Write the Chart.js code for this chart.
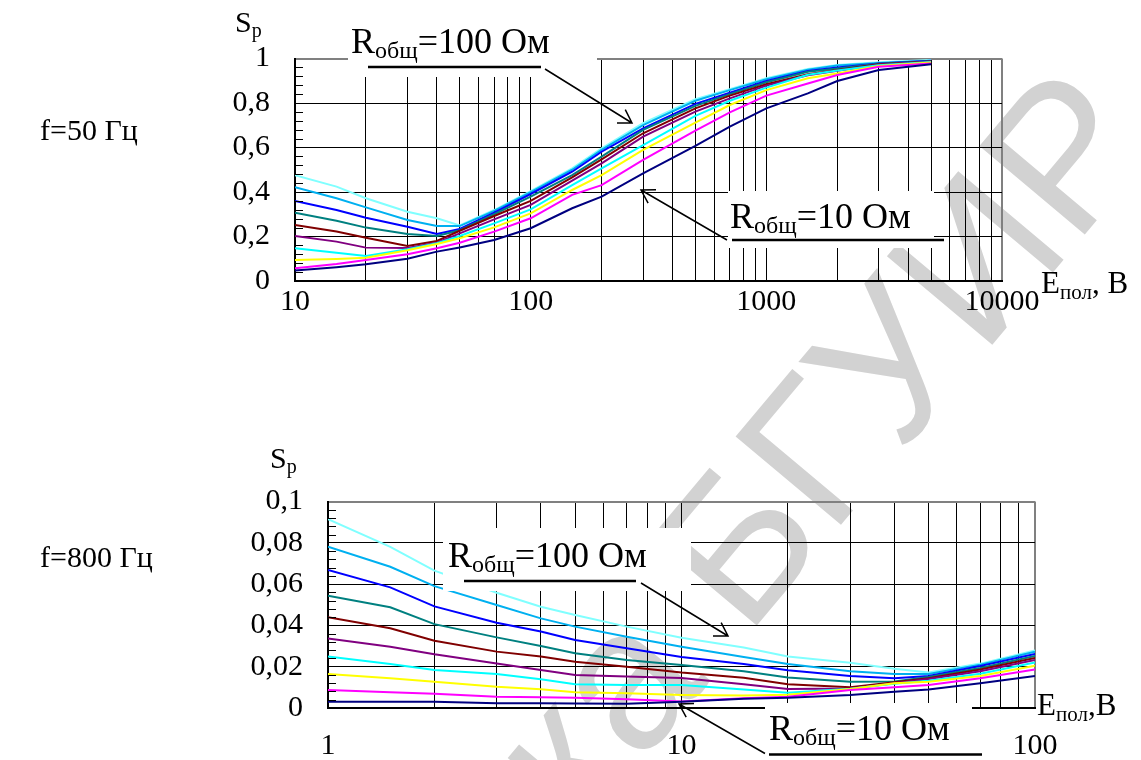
<!DOCTYPE html>
<html>
<head>
<meta charset="utf-8">
<script src="https://cdn.jsdelivr.net/npm/chart.js@4.4.0/dist/chart.umd.min.js"></script>
<style>
  html, body { margin: 0; padding: 0; background: #fff; }
  #page { position: relative; width: 1141px; height: 760px; overflow: hidden; }
  #wm {
    position: absolute; left: -118px; top: 1405px;
    font: 200px "Liberation Sans"; line-height: 1; color: #d2d2d2;
    white-space: nowrap; transform-origin: 0 0; transform: rotate(-50deg);
  }
  canvas { position: absolute; left: 0; }
</style>
</head>
<body>
<div id="page">
  <div id="wm">Библиотека БГУИР</div>
  <canvas id="chart50" width="1141" height="380" style="top:0"></canvas>
  <canvas id="chart800" width="1141" height="380" style="top:380px"></canvas>
</div>
<script>
// сопротивления R общ, Ом, и цвета кривых
const resistances = [10, 20, 30, 40, 50, 60, 70, 80, 90, 100];
const lineColors = ["#000080", "#ff00ff", "#ffff00", "#00ffff", "#800080",
                    "#800000", "#008080", "#0000ff", "#00b0f0", "#80ffff"];

// f = 50 Гц
const ePol50 = [10, 15, 20, 30, 40, 50, 70, 100, 150, 200, 300, 500, 700, 1000, 1500, 2000, 3000, 5000];
const sp50_R10  = [0.047, 0.062, 0.075, 0.100, 0.132, 0.151, 0.184, 0.237, 0.327, 0.379, 0.484, 0.607, 0.694, 0.776, 0.843, 0.899, 0.948, 0.974];
const sp50_R20  = [0.057, 0.076, 0.094, 0.120, 0.147, 0.172, 0.222, 0.282, 0.387, 0.431, 0.544, 0.676, 0.758, 0.833, 0.888, 0.926, 0.963, 0.978];
const sp50_R30  = [0.094, 0.099, 0.105, 0.138, 0.166, 0.192, 0.241, 0.304, 0.409, 0.476, 0.589, 0.712, 0.791, 0.858, 0.911, 0.933, 0.966, 0.982];
const sp50_R40  = [0.147, 0.127, 0.112, 0.143, 0.170, 0.202, 0.259, 0.322, 0.431, 0.506, 0.611, 0.742, 0.810, 0.869, 0.927, 0.946, 0.970, 0.984];
const sp50_R50  = [0.202, 0.177, 0.150, 0.148, 0.172, 0.214, 0.277, 0.342, 0.451, 0.529, 0.649, 0.761, 0.821, 0.878, 0.925, 0.945, 0.972, 0.985];
const sp50_R60  = [0.252, 0.222, 0.194, 0.157, 0.180, 0.226, 0.292, 0.360, 0.466, 0.547, 0.664, 0.776, 0.833, 0.884, 0.929, 0.948, 0.974, 0.986];
const sp50_R70  = [0.307, 0.271, 0.240, 0.211, 0.202, 0.228, 0.300, 0.379, 0.476, 0.559, 0.679, 0.787, 0.840, 0.893, 0.940, 0.955, 0.976, 0.988];
const sp50_R80  = [0.360, 0.319, 0.284, 0.244, 0.211, 0.234, 0.307, 0.391, 0.491, 0.581, 0.686, 0.796, 0.846, 0.899, 0.944, 0.960, 0.978, 0.990];
const sp50_R90  = [0.421, 0.372, 0.331, 0.274, 0.247, 0.247, 0.315, 0.399, 0.500, 0.589, 0.701, 0.810, 0.858, 0.907, 0.950, 0.968, 0.980, 0.990];
const sp50_R100 = [0.476, 0.424, 0.372, 0.311, 0.282, 0.250, 0.319, 0.404, 0.506, 0.596, 0.709, 0.817, 0.862, 0.911, 0.953, 0.971, 0.983, 0.993];
const xTickLabels50 = [10, 100, 1000, 10000];
const yTickLabels50 = [0, 0.2, 0.4, 0.6, 0.8, 1];

// f = 800 Гц
const ePol800 = [1, 1.5, 2, 3, 4, 5, 7, 10, 15, 20, 30, 40, 50, 70, 100];
const sp800_R10  = [0.0030, 0.0030, 0.0030, 0.0023, 0.0023, 0.0022, 0.0020, 0.0030, 0.0045, 0.0050, 0.0063, 0.0079, 0.0090, 0.0120, 0.0155];
const sp800_R20  = [0.0087, 0.0076, 0.0069, 0.0055, 0.0052, 0.0050, 0.0042, 0.0032, 0.0047, 0.0055, 0.0087, 0.0100, 0.0111, 0.0144, 0.0187];
const sp800_R30  = [0.0165, 0.0144, 0.0127, 0.0103, 0.0091, 0.0076, 0.0071, 0.0063, 0.0060, 0.0064, 0.0092, 0.0120, 0.0127, 0.0155, 0.0205];
const sp800_R40  = [0.0249, 0.0213, 0.0184, 0.0165, 0.0139, 0.0115, 0.0111, 0.0111, 0.0089, 0.0074, 0.0093, 0.0118, 0.0132, 0.0166, 0.0220];
const sp800_R50  = [0.0337, 0.0297, 0.0260, 0.0216, 0.0184, 0.0160, 0.0152, 0.0145, 0.0115, 0.0092, 0.0095, 0.0120, 0.0140, 0.0178, 0.0232];
const sp800_R60  = [0.0439, 0.0386, 0.0326, 0.0273, 0.0249, 0.0224, 0.0200, 0.0172, 0.0147, 0.0115, 0.0100, 0.0125, 0.0144, 0.0186, 0.0242];
const sp800_R70  = [0.0544, 0.0488, 0.0406, 0.0342, 0.0300, 0.0265, 0.0232, 0.0208, 0.0178, 0.0148, 0.0127, 0.0128, 0.0150, 0.0194, 0.0252];
const sp800_R80  = [0.0668, 0.0584, 0.0492, 0.0413, 0.0370, 0.0329, 0.0289, 0.0247, 0.0213, 0.0183, 0.0155, 0.0144, 0.0155, 0.0203, 0.0262];
const sp800_R90  = [0.0781, 0.0684, 0.0590, 0.0499, 0.0434, 0.0394, 0.0345, 0.0297, 0.0247, 0.0213, 0.0178, 0.0165, 0.0165, 0.0210, 0.0272];
const sp800_R100 = [0.0915, 0.0780, 0.0665, 0.0558, 0.0490, 0.0450, 0.0394, 0.0340, 0.0293, 0.0249, 0.0219, 0.0190, 0.0172, 0.0215, 0.0278];
const xTickLabels800 = [1, 10, 100];
const yTickLabels800 = [0, 0.02, 0.04, 0.06, 0.08, 0.1];

const FONT = '"Liberation Serif", "Times New Roman", serif';

function fmtTick(v) {
  return String(Math.round(v * 1000) / 1000).replace(".", ",");
}

// 1..9 в каждой декаде - сетка логарифмической оси
function gridValues(labels) {
  const vals = [];
  for (let i = 0; i < labels.length - 1; i++) {
    for (let k = 1; k < 10; k++) vals.push(labels[i] * k);
  }
  vals.push(labels[labels.length - 1]);
  return vals;
}

function subText(ctx, x, y, parts) {
  parts.forEach(([t, size, dy]) => {
    ctx.font = size + "px " + FONT;
    ctx.fillText(t, x, y + dy);
    x += ctx.measureText(t).width;
  });
}

function arrow(ctx, x1, y1, x2, y2) {
  const a = Math.atan2(y2 - y1, x2 - x1);
  const L = 15, w = 0.55;
  ctx.beginPath();
  ctx.moveTo(x1, y1);
  ctx.lineTo(x2, y2);
  ctx.moveTo(x2 - L * Math.cos(a - w), y2 - L * Math.sin(a - w));
  ctx.lineTo(x2, y2);
  ctx.lineTo(x2 - L * Math.cos(a + w), y2 - L * Math.sin(a + w));
  ctx.stroke();
}

// подпись R общ с белой подложкой, чертой и стрелкой
function rLabel(ctx, lb) {
  ctx.fillStyle = "#fff";
  ctx.fillRect(lb.box[0], lb.box[1], lb.box[2] - lb.box[0], lb.box[3] - lb.box[1]);
  ctx.fillStyle = "#000";
  ctx.textBaseline = "alphabetic";
  ctx.textAlign = "left";
  subText(ctx, lb.x, lb.y, [["R", 36, 0], ["общ", 24, 5], [lb.text, 36, 0]]);
  ctx.strokeStyle = "#000";
  ctx.lineWidth = 2.5;
  ctx.beginPath();
  ctx.moveTo(lb.line[0], lb.line[2]);
  ctx.lineTo(lb.line[1], lb.line[2]);
  ctx.stroke();
  ctx.lineWidth = 1.5;
  arrow(ctx, lb.arrow[0], lb.arrow[1], lb.arrow[2], lb.arrow[3]);
}

function decoPlugin(deco) {
  return {
    id: "deco",
    afterDatasetsDraw(chart) {
      const ctx = chart.ctx;
      const area = chart.chartArea;
      const y = chart.scales.y;
      ctx.save();
      // мелкие засечки на оси Sp
      ctx.strokeStyle = "#000";
      ctx.lineWidth = 1;
      const labs = deco.yLabels;
      for (let i = 0; i < labs.length - 1; i++) {
        const step = (labs[i + 1] - labs[i]) / 5;
        for (let k = 1; k < 5; k++) {
          const py = Math.round(y.getPixelForValue(labs[i] + k * step)) + 0.5;
          ctx.beginPath();
          ctx.moveTo(area.left, py);
          ctx.lineTo(area.left + 8, py);
          ctx.stroke();
        }
      }
      deco.labels.forEach((lb) => rLabel(ctx, lb));
      ctx.fillStyle = "#000";
      ctx.textAlign = "left";
      ctx.textBaseline = "alphabetic";
      subText(ctx, deco.sp[0], deco.sp[1], [["S", 30, 0], ["р", 20, 5]]);
      subText(ctx, deco.freq[0], deco.freq[1], [[deco.freq[2], 30, 0]]);
      subText(ctx, deco.epol[0], deco.epol[1], [["E", 31, 0], ["пол", 21, 6], [deco.epol[2], 31, 0]]);
      ctx.restore();
    },
  };
}

function buildChart(canvasId, cfg) {
  const xMax = cfg.xLabels[cfg.xLabels.length - 1];
  const yMax = cfg.yLabels[cfg.yLabels.length - 1];
  return new Chart(document.getElementById(canvasId), {
    type: "line",
    data: {
      datasets: cfg.series.map((vals, i) => ({
        label: "R=" + resistances[i],
        data: cfg.x.map((x, j) => ({ x: x, y: vals[j] })),
        borderColor: lineColors[i],
        borderWidth: 2,
        pointRadius: 0,
        fill: false,
        tension: 0,
      })),
    },
    options: {
      responsive: false,
      animation: false,
      devicePixelRatio: 1,
      layout: { padding: cfg.padding },
      plugins: { legend: { display: false }, tooltip: { enabled: false } },
      scales: {
        x: {
          type: "logarithmic",
          min: cfg.xLabels[0],
          max: xMax,
          afterBuildTicks: (s) => {
            s.ticks = gridValues(cfg.xLabels).map((v) => ({ value: v }));
          },
          afterFit: (s) => { s.height = cfg.xAxisHeight; },
          ticks: {
            autoSkip: false,
            maxRotation: 0,
            minRotation: 0,
            padding: cfg.xPad,
            color: "#000",
            font: { family: FONT, size: 30 },
            callback: (v) => (cfg.xLabels.includes(v) ? String(v) : ""),
          },
          grid: {
            drawTicks: false,
            color: (c) => (c.tick && c.tick.value === xMax ? "#808080" : "#000"),
            lineWidth: (c) => (c.tick && c.tick.value === xMax ? 2 : 1),
          },
          border: { color: "#000", width: 2 },
        },
        y: {
          type: "linear",
          min: 0,
          max: yMax,
          afterBuildTicks: (s) => {
            s.ticks = cfg.yLabels.map((v) => ({ value: v }));
          },
          afterFit: (s) => { s.width = cfg.yAxisWidth; },
          ticks: {
            padding: 25,
            color: "#000",
            font: { family: FONT, size: 30 },
            callback: (v) => fmtTick(v),
          },
          grid: {
            drawTicks: false,
            color: (c) => (c.tick && c.tick.value === yMax ? "#808080" : "#000"),
            lineWidth: (c) => (c.tick && c.tick.value === yMax ? 2 : 1),
          },
          border: { color: "#000", width: 2 },
        },
      },
    },
    plugins: [decoPlugin(cfg.deco)],
  });
}

buildChart("chart50", {
  x: ePol50,
  series: [sp50_R10, sp50_R20, sp50_R30, sp50_R40, sp50_R50, sp50_R60, sp50_R70, sp50_R80, sp50_R90, sp50_R100],
  xLabels: xTickLabels50,
  yLabels: yTickLabels50,
  padding: { left: 0, top: 58.5, right: 139, bottom: 0 },
  yAxisWidth: 295,
  xAxisHeight: 99,
  xPad: 3,
  deco: {
    yLabels: yTickLabels50,
    sp: [235, 32],
    freq: [40, 140, "f=50 Гц"],
    epol: [1041, 293, ", В"],
    labels: [
      { text: "=100 Ом", x: 351, y: 53, box: [348, 0, 597, 77], line: [368, 541, 67], arrow: [545, 69, 632, 123] },
      { text: "=10 Ом", x: 730, y: 228, box: [728, 191, 934, 248], line: [732, 944, 240], arrow: [727, 240, 641, 190] },
    ],
  },
});

buildChart("chart800", {
  x: ePol800,
  series: [sp800_R10, sp800_R20, sp800_R30, sp800_R40, sp800_R50, sp800_R60, sp800_R70, sp800_R80, sp800_R90, sp800_R100],
  xLabels: xTickLabels800,
  yLabels: yTickLabels800,
  padding: { left: 0, top: 121.5, right: 106, bottom: 0 },
  yAxisWidth: 328,
  xAxisHeight: 52,
  xPad: 20,
  deco: {
    yLabels: yTickLabels800,
    sp: [270, 88],
    freq: [40, 187, "f=800 Гц"],
    epol: [1037, 335, ",B"],
    labels: [
      { text: "=100 Ом", x: 448, y: 187, box: [443, 148, 691, 211], line: [464, 636, 201], arrow: [641, 203, 728, 256] },
      { text: "=10 Ом", x: 769, y: 360, box: [765, 323, 972, 380], line: [769, 982, 374.5], arrow: [765, 373.5, 679, 324] },
    ],
  },
});
</script>
</body>
</html>
